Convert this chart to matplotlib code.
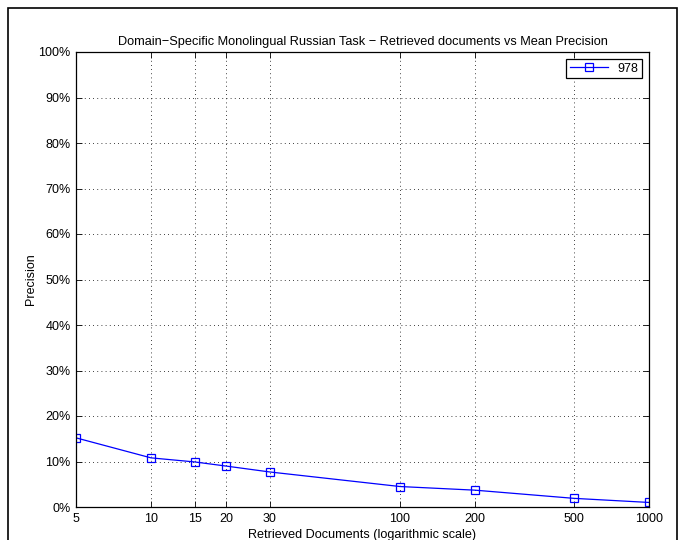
import matplotlib
matplotlib.use("Agg")
import matplotlib.pyplot as plt
from matplotlib.patches import Rectangle
from matplotlib.ticker import FixedLocator, FixedFormatter, NullLocator

#------------------------------------------------------------------------------
#Data

docs = [5, 10, 15, 20, 30, 100, 200, 500, 1000]
prec_978 = [15.2, 10.8, 9.9, 9.0, 7.7, 4.5, 3.7, 1.9, 1.0]
xtick_labels = ["5", "10", "15", "20", "30", "100", "200", "500", "1000"]
yticks = list(range(0, 101, 10))
ytick_labels = ["%d%%" % v for v in yticks]

#------------------------------------------------------------------------------
#Plot

plt.rcParams['font.family'] = ['Liberation Sans', 'DejaVu Sans']

fig = plt.figure(figsize=(6.83, 5.4), dpi=100)
ax = fig.add_axes([76/683, 33/540, (649-76)/683, (507-52)/540])

ax.plot(docs, prec_978, color="blue", lw=0.9, marker="s", markersize=6,
        markerfacecolor="none", markeredgecolor="blue", markeredgewidth=0.9,
        label="978")

ax.set_xscale("log")
ax.set_xlim(5, 1000)
ax.set_ylim(0, 100)
ax.xaxis.set_major_locator(FixedLocator(docs))
ax.xaxis.set_major_formatter(FixedFormatter(xtick_labels))
ax.xaxis.set_minor_locator(NullLocator())
ax.set_yticks(yticks)
ax.set_yticklabels(ytick_labels)

ax.grid(True, color="black", linestyle=(0, (1, 4)), linewidth=0.6)
ax.tick_params(direction="in", top=True, right=True, labelsize=9,
               length=4, width=0.6, pad=4)
for s in ax.spines.values():
    s.set_linewidth(0.9)

ax.set_title("Domain\u2212Specific Monolingual Russian Task \u2212 Retrieved documents vs Mean Precision",
             fontsize=9.2, pad=5)
ax.set_xlabel("Retrieved Documents (logarithmic scale)", fontsize=9.1, labelpad=3)
ax.set_ylabel("Precision", fontsize=9, labelpad=1)

leg = ax.legend(loc="upper right", fontsize=9, fancybox=False,
                edgecolor="black", framealpha=1, borderpad=0.3,
                handlelength=3.0, borderaxespad=0.55)
leg.get_frame().set_linewidth(0.9)

#figure frame
fig.patches.append(Rectangle((8/683, -0.1), (677-8)/683, 0.1 + 532/540,
                             transform=fig.transFigure, fill=False,
                             edgecolor="black", linewidth=1.2))

fig.savefig("out.png", dpi=100)
